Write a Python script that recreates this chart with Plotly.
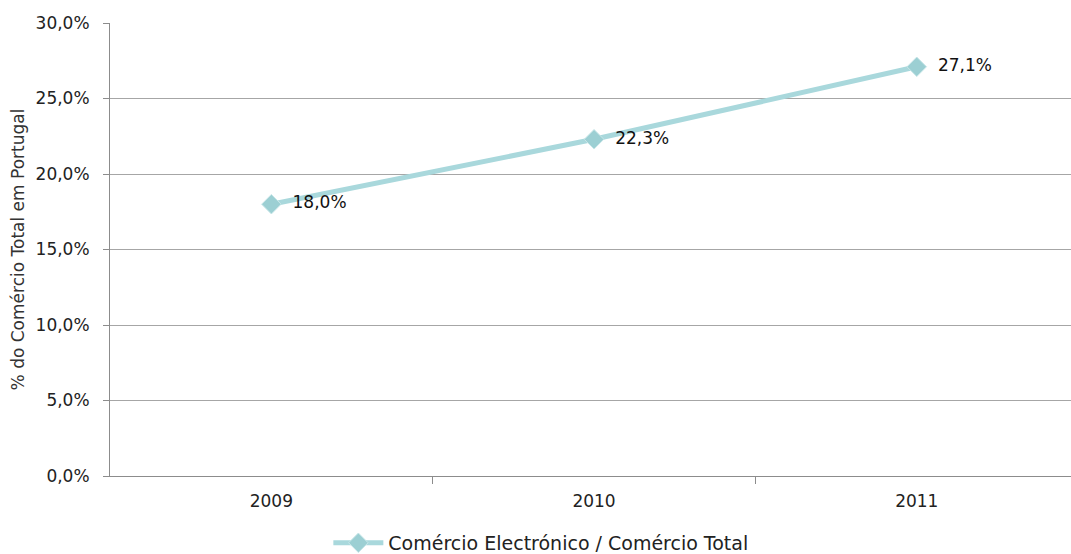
import plotly.graph_objects as go

years = ["2009", "2010", "2011"]
values = [18.0, 22.3, 27.1]
labels = ["18,0%", "22,3%", "27,1%"]
series_name = "Comércio Electrónico / Comércio Total"
y_title = "% do Comércio Total em Portugal"
y_ticks = [0, 5, 10, 15, 20, 25, 30]
y_ticktext = ["0,0%", "5,0%", "10,0%", "15,0%", "20,0%", "25,0%", "30,0%"]

fig = go.Figure()
fig.add_trace(go.Scatter(
    x=[0, 1, 2], y=values, mode="lines+markers+text",
    name=series_name,
    line=dict(color="#a9d8dc", width=5),
    marker=dict(symbol="diamond", size=15, color="#9ccfd3",
                line=dict(color="#c8e6e8", width=1)),
    text=["  " + t for t in labels], textposition="middle right",
    textfont=dict(family="DejaVu Sans", size=17, color="#111111"),
    cliponaxis=False,
))

fig.update_layout(
    width=1071, height=554,
    margin=dict(l=110, r=0, t=23, b=78, autoexpand=False),
    paper_bgcolor="white", plot_bgcolor="white",
    separators=",.",
    font=dict(family="DejaVu Sans", size=17, color="#222222"),
    showlegend=True,
    legend=dict(orientation="h", x=0.505, xanchor="center", xref="container",
                y=0.02, yanchor="middle", yref="container",
                font=dict(size=19, color="#222222"),
                itemwidth=50),
)
fig.update_xaxes(
    range=[-0.5, 2.478], tickvals=[0, 1, 2], ticktext=years,
    showgrid=False, zeroline=False,
    showline=True, linecolor="#8c8c8c", linewidth=1,
    ticks="", tickfont=dict(size=17), ticklabelstandoff=10,
    minor=dict(tickvals=[0.5, 1.5], ticks="outside", ticklen=7, tickcolor="#8c8c8c"),
)
fig.update_yaxes(
    range=[0, 30], tickvals=y_ticks, ticktext=y_ticktext,
    showgrid=True, gridcolor="#a6a6a6", gridwidth=1, zeroline=False,
    showline=True, linecolor="#8c8c8c", linewidth=1,
    ticks="outside", ticklen=6, tickcolor="#8c8c8c",
    tickfont=dict(size=17), ticklabelstandoff=10,
    title=dict(text=y_title, font=dict(size=17, color="#333333"), standoff=6),
)
fig.write_html("out.html")
